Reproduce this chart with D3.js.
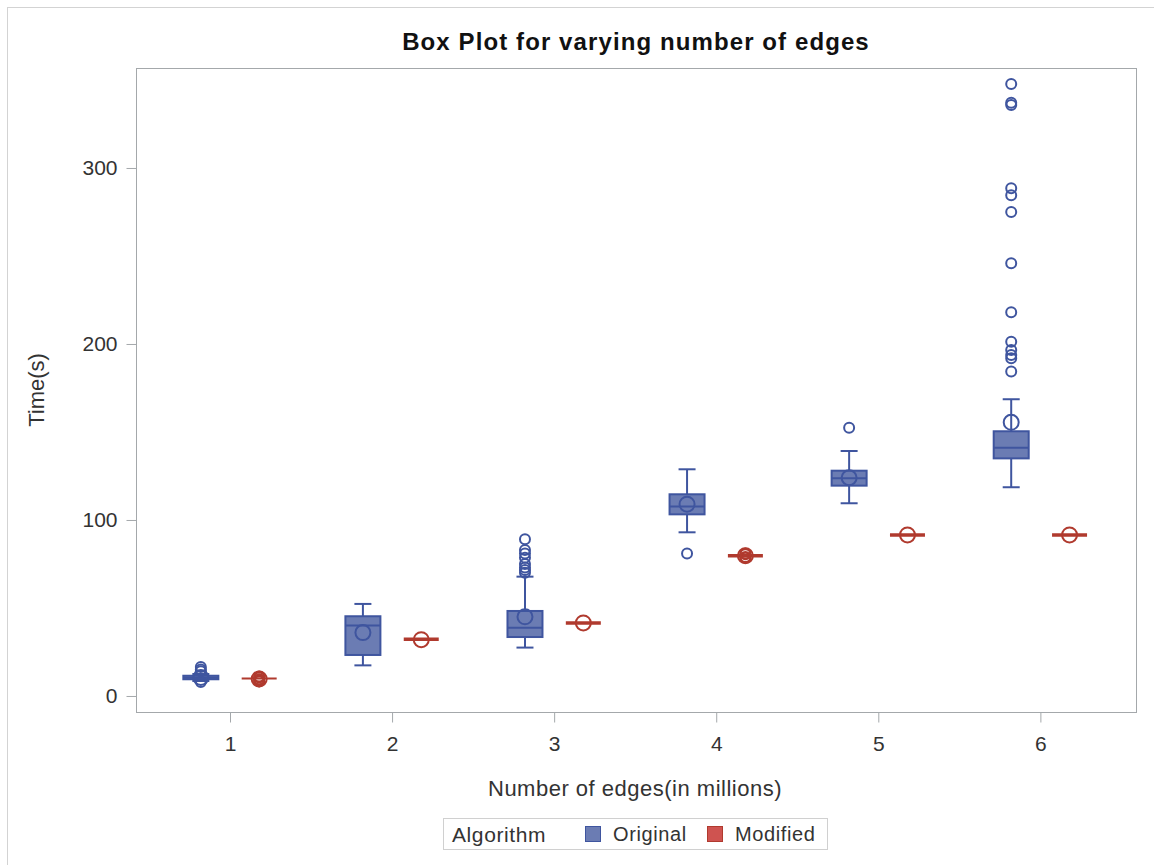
<!DOCTYPE html>
<html>
<head>
<meta charset="utf-8">
<script src="https://cdn.jsdelivr.net/npm/d3@7"></script>
<style>
  body { margin: 0; background: #fff; }
  text { font-family: "Liberation Sans", Arial, sans-serif; fill: #333; }
</style>
</head>
<body>
<div class="canvas"></div>
<script>
// data
const categories = [1, 2, 3, 4, 5, 6];
const groups = ["Original", "Modified"];

// [whiskerLow, q1, median, q3, whiskerHigh, mean]
const originalStats = [
  [8.5, 9.5, 10.3, 11.5, 12.5, 10.5],
  [17.4, 23.3, 40, 45.3, 52.3, 36],
  [27.5, 33.5, 38.8, 48.3, 67.8, 45],
  [93, 103.2, 107.6, 114.6, 128.8, 109],
  [109.5, 119.5, 123.7, 128, 139.2, 124],
  [118.6, 135, 141, 150.4, 168.6, 155.5]
];
const modifiedStats = [
  [9.5, 9.8, 10, 10.2, 10.5, 9.7],
  [31.8, 32, 32.2, 32.4, 32.6, 32],
  [41.1, 41.3, 41.5, 41.7, 41.9, 41.5],
  [79.3, 79.5, 79.7, 79.9, 80.1, 79.7],
  [91.1, 91.3, 91.5, 91.7, 91.9, 91.5],
  [91.1, 91.3, 91.5, 91.7, 91.9, 91.5]
];
const originalOutliers = [
  [8, 14, 15, 16.5],
  [],
  [70, 71.6, 73, 75, 78.5, 81, 83, 89],
  [81],
  [152.4],
  [184.3, 191.9, 193.8, 196.6, 201.3, 218, 245.8, 275, 284.5, 288.5, 335.8, 337, 347.7]
];
const modifiedOutliers = [
  [8.3, 9, 9.5, 10.5, 11],
  [],
  [],
  [78.5, 79, 80.5, 81],
  [],
  []
];
const yTicks = [0, 100, 200, 300];

const colors = { Original: "#6b7cb3", Modified: "#cf5350" };
const strokes = { Original: "#3f559f", Modified: "#b03a2e" };

const width = 1154, height = 865;
const margin = { top: 68, right: 18, bottom: 153, left: 136 };
const graphWidth = width - margin.left - margin.right;
const graphHeight = height - margin.top - margin.bottom;

const svg = d3.select(".canvas").append("svg")
  .attr("width", width)
  .attr("height", height);

// outer frame
svg.append("rect")
  .attr("x", 7.5).attr("y", 7.5)
  .attr("width", width + 10).attr("height", height + 10)
  .attr("fill", "none").attr("stroke", "#d3d3d3");

svg.append("text")
  .attr("x", 636).attr("y", 50)
  .attr("text-anchor", "middle")
  .attr("font-size", 24).attr("font-weight", "bold")
  .attr("letter-spacing", 1.1)
  .style("fill", "#111")
  .text("Box Plot for varying number of edges");

const graph = svg.append("g")
  .attr("transform", `translate(${margin.left}, ${margin.top})`);

const x = d3.scaleLinear().domain([0.42, 6.59]).range([0, graphWidth]);
const y = d3.scaleLinear().domain([-9.1, 356.8]).range([graphHeight, 0]);
const offset = { Original: -0.18, Modified: 0.18 };
const boxW = 35;

graph.append("rect")
  .attr("x", 0.5).attr("y", 0.5)
  .attr("width", graphWidth).attr("height", graphHeight)
  .attr("fill", "none").attr("stroke", "#a4a8ab");

const xAxisGroup = graph.append("g")
  .attr("transform", `translate(0, ${graphHeight + 0.5})`)
  .call(d3.axisBottom(x).tickValues(categories).tickFormat(d3.format("d"))
    .tickSize(10).tickSizeOuter(0).tickPadding(14));
const yAxisGroup = graph.append("g")
  .attr("transform", "translate(0.5, 0)")
  .call(d3.axisLeft(y).tickValues(yTicks).tickSize(10).tickSizeOuter(0).tickPadding(9));

[xAxisGroup, yAxisGroup].forEach((g) => {
  g.select(".domain").remove();
  g.selectAll("line").attr("stroke", "#a4a8ab");
  g.selectAll("text")
    .attr("font-size", 21)
    .attr("font-family", "Liberation Sans, Arial, sans-serif")
    .style("fill", "#333");
});

svg.append("text")
  .attr("transform", "translate(44, 390) rotate(-90)")
  .attr("text-anchor", "middle")
  .attr("font-size", 22)
  .text("Time(s)");

svg.append("text")
  .attr("x", 635).attr("y", 796)
  .attr("text-anchor", "middle")
  .attr("font-size", 22)
  .attr("letter-spacing", 0.5)
  .text("Number of edges(in millions)");

function drawBoxes(name, stats, outliers) {
  const g = graph.append("g");
  const fill = colors[name], stroke = strokes[name];
  stats.forEach((s, i) => {
    const cx = x(categories[i] + offset[name]);
    const [lo, q1, med, q3, hi, mean] = s;
    if (name === "Original") {
      g.append("line")
        .attr("x1", cx).attr("x2", cx).attr("y1", y(hi)).attr("y2", y(lo))
        .attr("stroke", stroke).attr("stroke-width", 2);
      [lo, hi].forEach((v) => {
        g.append("line")
          .attr("x1", cx - 8.5).attr("x2", cx + 8.5).attr("y1", y(v)).attr("y2", y(v))
          .attr("stroke", stroke).attr("stroke-width", 2);
      });
      g.append("rect")
        .attr("x", cx - boxW / 2).attr("width", boxW)
        .attr("y", y(q3)).attr("height", Math.max(y(q1) - y(q3), 1))
        .attr("fill", fill).attr("stroke", stroke).attr("stroke-width", 2);
      g.append("line")
        .attr("x1", cx - boxW / 2).attr("x2", cx + boxW / 2).attr("y1", y(med)).attr("y2", y(med))
        .attr("stroke", stroke).attr("stroke-width", 2);
    } else {
      g.append("line")
        .attr("x1", cx - boxW / 2).attr("x2", cx + boxW / 2).attr("y1", y(med)).attr("y2", y(med))
        .attr("stroke", stroke).attr("stroke-width", i === 0 ? 2 : 3.5);
    }
    outliers[i].forEach((v) => {
      g.append("circle")
        .attr("cx", cx).attr("cy", y(v)).attr("r", 5)
        .attr("fill", "none").attr("stroke", stroke).attr("stroke-width", 2);
    });
    g.append("circle")
      .attr("cx", cx).attr("cy", y(mean)).attr("r", 7.5)
      .attr("fill", "none").attr("stroke", stroke).attr("stroke-width", 2);
  });
}

drawBoxes("Original", originalStats, originalOutliers);
drawBoxes("Modified", modifiedStats, modifiedOutliers);

// legend
const legend = svg.append("g").attr("transform", "translate(443, 818)");
legend.append("rect")
  .attr("x", 0.5).attr("y", 0.5).attr("width", 384).attr("height", 31)
  .attr("fill", "#fff").attr("stroke", "#d0d0d0");
legend.append("text").attr("x", 9).attr("y", 24)
  .attr("font-size", 21).attr("letter-spacing", 0.6).text("Algorithm");
const legendX = [142, 264];
groups.forEach((name, i) => {
  legend.append("rect")
    .attr("x", legendX[i] + 0.5).attr("y", 8.5).attr("width", 15).attr("height", 15)
    .attr("fill", colors[name]).attr("stroke", strokes[name]);
  legend.append("text")
    .attr("x", legendX[i] + 28).attr("y", 23).attr("font-size", 20)
    .attr("letter-spacing", 0.6)
    .text(name);
});
</script>
</body>
</html>
